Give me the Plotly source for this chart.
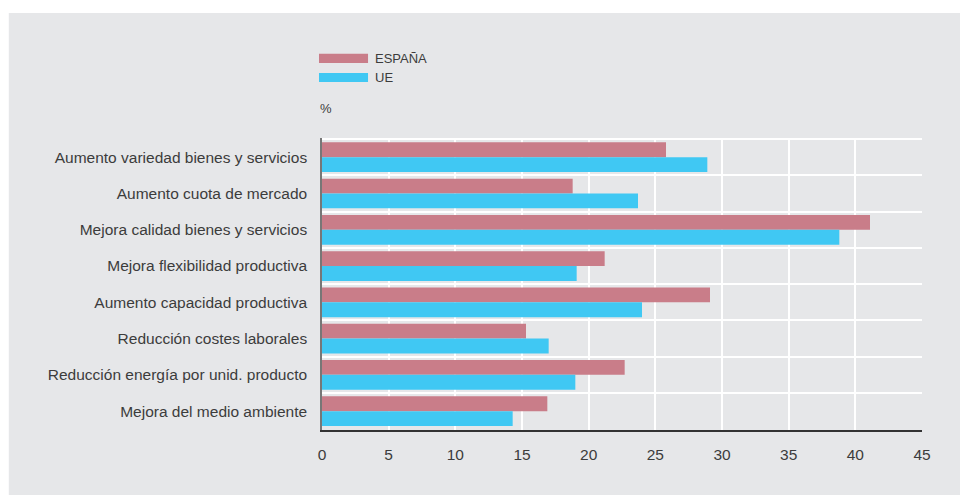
import plotly.graph_objects as go

categories = [
    "Aumento variedad bienes y servicios",
    "Aumento cuota de mercado",
    "Mejora calidad bienes y servicios",
    "Mejora flexibilidad productiva",
    "Aumento capacidad productiva",
    "Reducción costes laborales",
    "Reducción energía por unid. producto",
    "Mejora del medio ambiente",
]
espana = [25.8, 18.8, 41.1, 21.2, 29.1, 15.3, 22.7, 16.9]
ue = [28.9, 23.7, 38.8, 19.1, 24.0, 17.0, 19.0, 14.3]
x_ticks = [0, 5, 10, 15, 20, 25, 30, 35, 40, 45]

COL_ES = "#c97d89"
COL_UE = "#40c8f3"
BG = "#e6e7e9"
TXT = "#3c3c3c"
FONT = "Liberation Sans"

fig = go.Figure()
fig.add_trace(go.Bar(y=categories, x=espana, orientation="h", name="ESPAÑA",
                     marker=dict(color=COL_ES, line=dict(width=0)), showlegend=False))
fig.add_trace(go.Bar(y=categories, x=ue, orientation="h", name="UE",
                     marker=dict(color=COL_UE, line=dict(width=0)), showlegend=False))

W, H = 960, 495
L, T = 322, 138
R = W - 921.6
B = H - 430
pw, ph = W - L - R, H - T - B

def px(x):
    return (x - L) / pw

def py(y):
    return (H - B - y) / ph

shapes = [
    # white page strip above and left of the grey panel
    dict(type="rect", xref="paper", yref="paper", x0=px(-100), x1=px(1100), y0=py(13), y1=py(-100),
         fillcolor="white", line=dict(width=0), layer="below"),
    dict(type="rect", xref="paper", yref="paper", x0=px(-100), x1=px(9), y0=py(-100), y1=py(700),
         fillcolor="white", line=dict(width=0), layer="below"),
    # legend swatches
    dict(type="rect", xref="paper", yref="paper", x0=px(319), x1=px(368), y0=py(63), y1=py(53.7),
         fillcolor=COL_ES, line=dict(width=0)),
    dict(type="rect", xref="paper", yref="paper", x0=px(319), x1=px(368), y0=py(82), y1=py(73),
         fillcolor=COL_UE, line=dict(width=0)),
]
annotations = [
    dict(text="ESPAÑA", xref="paper", yref="paper", x=px(373), y=py(58.5), xanchor="left",
         yanchor="middle", showarrow=False, font=dict(size=13, color=TXT, family=FONT)),
    dict(text="UE", xref="paper", yref="paper", x=px(373), y=py(77.5), xanchor="left",
         yanchor="middle", showarrow=False, font=dict(size=13, color=TXT, family=FONT)),
    dict(text="%", xref="paper", yref="paper", x=px(318), y=py(108), xanchor="left",
         yanchor="middle", showarrow=False, font=dict(size=13, color=TXT, family=FONT)),
]

fig.update_layout(
    width=W, height=H,
    margin=dict(l=L, r=R, t=T, b=B, pad=0),
    paper_bgcolor=BG, plot_bgcolor=BG,
    barmode="group", bargap=0.18, bargroupgap=0,
    shapes=shapes, annotations=annotations,
    font=dict(family=FONT, color=TXT, size=15.5),
    xaxis=dict(range=[0, 45], tickvals=x_ticks, showgrid=True, gridcolor="white", gridwidth=2,
               zeroline=False, showline=True, linecolor="#333333", linewidth=1.5,
               ticks="", ticklabelstandoff=10, tickfont=dict(size=15.5, color=TXT)),
    yaxis=dict(range=[7.52, -0.53], type="category", tickson="boundaries",
               showgrid=True, gridcolor="white", gridwidth=2,
               showline=True, linecolor="#777777", linewidth=1.5,
               ticks="", ticklabelstandoff=10, tickfont=dict(size=15.5, color=TXT)),
)

fig.write_html("out.html", config={"displayModeBar": False},
               post_script="document.body.style.margin='0';document.body.style.overflow='hidden';"
                           "document.body.style.background='" + BG + "';")
